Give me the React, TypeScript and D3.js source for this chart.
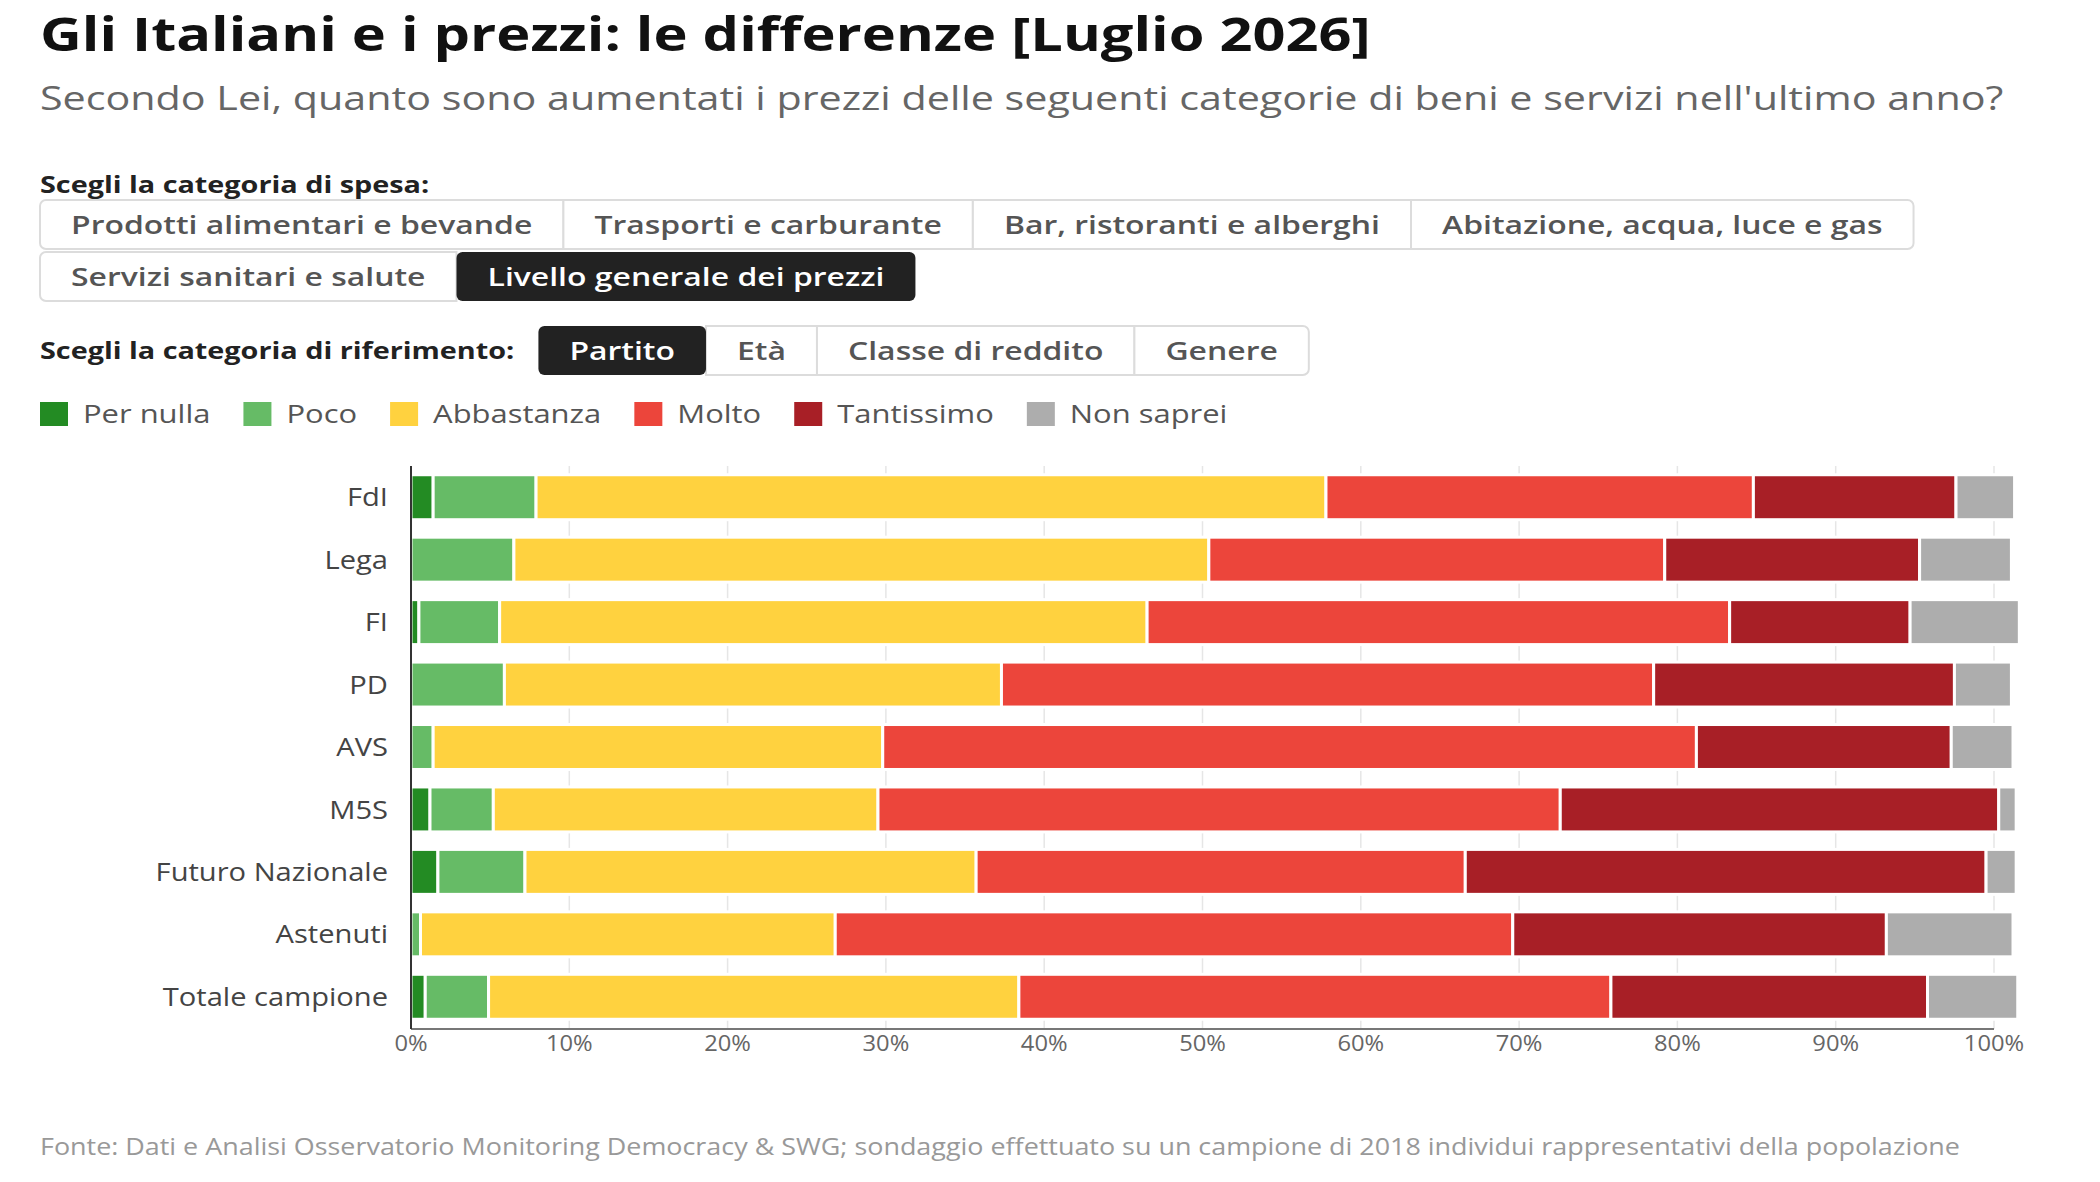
import React from 'react';
import * as d3 from 'd3';

const title = 'Gli Italiani e i prezzi: le differenze [Luglio 2026]';
const subtitle =
  "Secondo Lei, quanto sono aumentati i prezzi delle seguenti categorie di beni e servizi nell'ultimo anno?";
const source =
  'Fonte: Dati e Analisi Osservatorio Monitoring Democracy & SWG; sondaggio effettuato su un campione di 2018 individui rappresentativi della popolazione';

const spesaRows = [
  ['Prodotti alimentari e bevande', 'Trasporti e carburante', 'Bar, ristoranti e alberghi', 'Abitazione, acqua, luce e gas'],
  ['Servizi sanitari e salute', 'Livello generale dei prezzi'],
];
const spesaSelected = 'Livello generale dei prezzi';
const riferimento = ['Partito', 'Età', 'Classe di reddito', 'Genere'];
const riferimentoSelected = 'Partito';

const categories = ['FdI', 'Lega', 'FI', 'PD', 'AVS', 'M5S', 'Futuro Nazionale', 'Astenuti', 'Totale campione'];
const responses = ['Per nulla', 'Poco', 'Abbastanza', 'Molto', 'Tantissimo', 'Non saprei'];
const colors = ['#238b23', '#66bb66', '#ffd23f', '#ec453b', '#a81f26', '#adadad'];

// % per response, one value per category (same order as categories)
const perNulla = [1.4, 0, 0.5, 0, 0, 1.2, 1.7, 0, 0.9];
const poco = [6.5, 6.5, 5.1, 5.9, 1.4, 4.0, 5.5, 0.6, 4.0];
const abbastanza = [49.9, 43.9, 40.9, 31.4, 28.4, 24.3, 28.5, 26.2, 33.5];
const molto = [27.0, 28.8, 36.8, 41.2, 51.4, 43.1, 30.9, 42.8, 37.4];
const tantissimo = [12.8, 16.1, 11.4, 19.0, 16.1, 27.7, 32.9, 23.6, 20.0];
const nonSaprei = [3.7, 5.8, 6.9, 3.6, 3.9, 1.1, 1.9, 8.0, 5.7];

const tickValues = [0, 10, 20, 30, 40, 50, 60, 70, 80, 90, 100];

const W = 2100;
const H = 1182;
const FONT = '"Open Sans", "Noto Sans", sans-serif';

const ctx = typeof document !== 'undefined' ? document.createElement('canvas').getContext('2d') : null;
const measure = (s: string, weight: number, size: number) => {
  if (!ctx) return s.length * size * 0.55;
  ctx.font = `${weight} ${size}px "Open Sans"`;
  return ctx.measureText(s).width;
};

// the reference type is set wide: draw glyphs stretched horizontally
type STProps = {
  x: number;
  y: number;
  sx: number;
  size: number;
  weight?: number;
  fill: string;
  anchor?: 'start' | 'middle' | 'end';
  dy?: string;
  children: React.ReactNode;
};
function SText({ x, y, sx, size, weight = 400, fill, anchor = 'start', dy, children }: STProps) {
  return (
    <text
      transform={`translate(${x},${y}) scale(${sx},1)`}
      dy={dy}
      textAnchor={anchor}
      fontFamily={FONT}
      fontWeight={weight}
      fontSize={size}
      fill={fill}
    >
      {children}
    </text>
  );
}

// rect path with separate left / right corner radius
const roundPath = (x: number, y: number, w: number, h: number, rl: number, rr: number) => {
  const p = d3.path();
  p.moveTo(x + rl, y);
  p.lineTo(x + w - rr, y);
  if (rr) p.arcTo(x + w, y, x + w, y + rr, rr);
  p.lineTo(x + w, y + h - rr);
  if (rr) p.arcTo(x + w, y + h, x + w - rr, y + h, rr);
  p.lineTo(x + rl, y + h);
  if (rl) p.arcTo(x, y + h, x, y + h - rl, rl);
  p.lineTo(x, y + rl);
  if (rl) p.arcTo(x, y, x + rl, y, rl);
  p.closePath();
  return p.toString();
};

const BTN_SIZE = 26;
const BTN_SX = 1.228;
const BTN_PAD = 31;

function ButtonRow({ labels, selected, x0, y, h }: { labels: string[]; selected: string; x0: number; y: number; h: number }) {
  let x = x0;
  const items = labels.map((l, i) => {
    const w = measure(l, 600, BTN_SIZE) * BTN_SX + BTN_PAD * 2;
    const it = { l, x, w, first: i === 0, last: i === labels.length - 1 };
    x += w;
    return it;
  });
  return (
    <g>
      {items
        .filter((b) => b.l !== selected)
        .map((b) => (
          <path
            key={b.l}
            d={roundPath(b.x, y, b.w, h, b.first ? 6 : 0, b.last ? 6 : 0)}
            fill="#fff"
            stroke="#dcdcdc"
            strokeWidth={2}
          />
        ))}
      {items
        .filter((b) => b.l === selected)
        .map((b) => (
          <path key={b.l} d={roundPath(b.x, y, b.w, h, 6, 6)} fill="#222" />
        ))}
      {items.map((b) => (
        <SText
          key={b.l + 't'}
          x={b.x + b.w / 2}
          y={y + h / 2}
          dy="0.35em"
          anchor="middle"
          sx={BTN_SX}
          size={BTN_SIZE}
          weight={600}
          fill={b.l === selected ? '#fff' : '#555'}
        >
          {b.l}
        </SText>
      ))}
    </g>
  );
}

export default function App() {
  const series = [perNulla, poco, abbastanza, molto, tantissimo, nonSaprei];
  const rows = categories.map((c, i) => {
    const r: Record<string, number | string> = { category: c };
    responses.forEach((k, j) => (r[k] = series[j][i]));
    return r;
  });
  const stacked = d3.stack<Record<string, number | string>>().keys(responses)(rows as any);

  const x = d3.scaleLinear().domain([0, 100]).range([411, 1994]);
  const y = d3.scaleBand<string>().domain(categories).range([466, 1028]).paddingInner(0.28).paddingOuter(0.14);
  const axisY = 1029;

  // legend layout
  const LEG_SIZE = 26;
  const LEG_SX = 1.19;
  let lx = 40;
  const legend = responses.map((r, i) => {
    const it = { r, x: lx, c: colors[i] };
    lx += 43 + measure(r, 400, LEG_SIZE) * LEG_SX + 33;
    return it;
  });

  const LABEL_SX = 1.2;
  const refLabel = 'Scegli la categoria di riferimento:';
  const refLabelW = measure(refLabel, 700, 24) * LABEL_SX;

  return (
    <svg width={W} height={H} style={{ position: 'absolute', left: 0, top: 0, background: '#fff' }}>
      <SText x={40} y={51} sx={1.229} size={47} weight={700} fill="#111">
        {title}
      </SText>
      <SText x={40} y={110} sx={1.25} size={33} fill="#666">
        {subtitle}
      </SText>

      <SText x={40} y={193} sx={LABEL_SX} size={24} weight={700} fill="#222">
        Scegli la categoria di spesa:
      </SText>
      <ButtonRow labels={spesaRows[0]} selected={spesaSelected} x0={40} y={200} h={49} />
      <ButtonRow labels={spesaRows[1]} selected={spesaSelected} x0={40} y={252} h={49} />

      <SText x={40} y={351} dy="0.35em" sx={LABEL_SX} size={24} weight={700} fill="#222">
        {refLabel}
      </SText>
      <ButtonRow labels={riferimento} selected={riferimentoSelected} x0={40 + refLabelW + 24} y={326} h={49} />

      {legend.map((l) => (
        <g key={l.r}>
          <rect x={l.x} y={402} width={28} height={24} fill={l.c} />
          <SText x={l.x + 43} y={414} dy="0.35em" sx={LEG_SX} size={LEG_SIZE} fill="#555">
            {l.r}
          </SText>
        </g>
      ))}

      {/* grid */}
      {tickValues.map((t) => (
        <line key={'g' + t} x1={x(t)} x2={x(t)} y1={466} y2={axisY} stroke="#e6e6e6" strokeWidth={1.5} />
      ))}

      {/* bars */}
      {stacked.map((s, i) => (
        <g key={s.key} fill={colors[i]}>
          {s.map((d, j) =>
            d[1] - d[0] > 0 ? (
              <rect
                key={categories[j]}
                x={x(d[0])}
                y={y(categories[j])}
                width={x(d[1]) - x(d[0])}
                height={y.bandwidth()}
                stroke="#fff"
                strokeWidth={3}
              />
            ) : null
          )}
        </g>
      ))}

      {/* axes */}
      <line x1={x(0)} x2={x(100)} y1={axisY} y2={axisY} stroke="#777" strokeWidth={2} />
      <line x1={x(0)} x2={x(0)} y1={466} y2={axisY} stroke="#333" strokeWidth={2} />
      {tickValues.map((t) => (
        <SText key={'t' + t} x={x(t)} y={1044} dy="0.35em" anchor="middle" sx={1.13} size={21} fill="#666">
          {t}%
        </SText>
      ))}
      {categories.map((c) => (
        <SText
          key={c}
          x={388}
          y={(y(c) ?? 0) + y.bandwidth() / 2}
          dy="0.35em"
          anchor="end"
          sx={1.12}
          size={26}
          fill="#444"
        >
          {c}
        </SText>
      ))}

      <SText x={40} y={1155} sx={1.17} size={23} fill="#999">
        {source}
      </SText>
    </svg>
  );
}
